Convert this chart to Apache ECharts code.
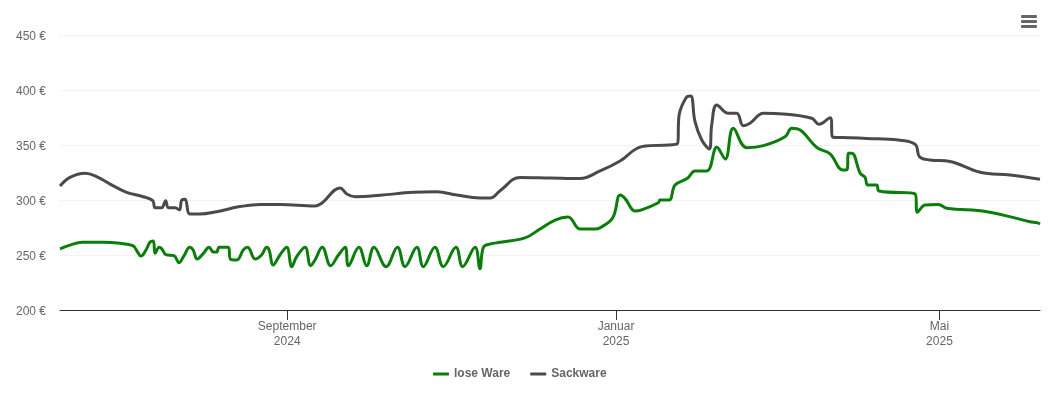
<!DOCTYPE html>
<html>
<head>
<meta charset="utf-8">
<title>Preisentwicklung</title>
<style>
  html, body { margin: 0; padding: 0; background: #fff; }
  #chart { width: 1050px; height: 400px; }
</style>
<script src="https://cdn.jsdelivr.net/npm/echarts@6/dist/echarts.min.js"></script>
</head>
<body>
<div id="chart"></div>
<script>
// x values are days since the first day of the chart (about 9 June 2024)
var lastDay = 363.6;

var tickDays = [84.3, 206.3, 326.3];
var tickLabels = ['September\n2024', 'Januar\n2025', 'Mai\n2025'];

var looseDays = [
  0, 3.7, 8.2, 16, 22.3, 27, 28.5, 30, 31.9, 33.4, 34.6, 35.3, 36.8, 37.8, 39.3, 42.3, 44.2, 45.8, 48.2, 49.4,
  50.9, 53.2, 55.3, 56.9, 58.1, 59.1, 62.4, 63.3, 65.6, 68, 69.6, 72.4, 74.8, 76.7, 77.6, 79.1, 81.6, 84.1, 86, 87.8,
  90.9, 93, 94.6, 97.3, 100.4, 103.3, 105.8, 107, 110.9, 113.8, 116.5, 121, 125.2, 128, 132.4, 134.8, 139.1, 142.2, 146.9, 149.4,
  154, 155.8, 157.1, 159.6, 163.3, 172.5, 178.1, 183.7, 188.5, 193, 198.5, 200.4, 205.1, 207.8, 209.6, 213.4, 215.8, 222, 222.6, 226,
  228.2, 232.8, 235.6, 240, 243.7, 246.8, 249.8, 254.8, 261, 269, 271.5, 274.6, 280.8, 285.7, 290.4, 291.9, 292.6, 293.8, 296.9, 298.7,
  299.7, 303, 303.9, 317.3, 318.1, 321, 325.9, 329, 343.9, 359.9, 362.4, 363.6
];
var loosePrices = [
  255.5, 259, 261.5, 261.5, 260.6, 258.5, 253.9, 249, 254.5, 261.8, 262.7, 251.5, 257, 255.5, 250.3, 249.4, 243, 248.5, 257, 254.5,
  246.4, 251.5, 257, 252.7, 252.7, 257, 257, 246, 245.5, 254.5, 257, 246.4, 250, 257, 254.5, 241, 250, 257, 239.4, 248.5,
  257, 240.3, 245.5, 257, 240.3, 250, 257, 240.3, 257, 240.3, 257, 239.4, 257, 239.4, 257, 239.4, 257, 239.4, 257, 239.4,
  257, 237.5, 257, 260, 261.5, 265.5, 273.6, 281.8, 284.5, 273.6, 273.6, 274.8, 283.9, 304.5, 301.5, 290, 291, 297.5, 300, 300,
  313.6, 319.7, 326.4, 326.4, 347.9, 337.3, 365.2, 347.5, 349.4, 357.5, 365.2, 363.6, 347.7, 342, 327.3, 327.3, 342.5, 342.5, 324.3, 320.6,
  313.6, 313.6, 308.2, 305.5, 288.8, 295.5, 296, 292.5, 289.4, 280.3, 279.4, 278.2
];

var bagDays = [
  0, 3.7, 9.3, 13, 18.6, 24.7, 30.9, 34.4, 35.3, 37.7, 39.2, 40.2, 42.7, 44.3, 45.2, 46.4, 48.2, 51.9, 58.1, 66.8,
  74.2, 81.6, 94.6, 97.1, 103.9, 106.4, 109.5, 118.7, 131.1, 139.8, 147.2, 155.8, 159.6, 163.3, 170.7, 181.8, 192.9, 200.4, 207.8, 215.8,
  229.1, 229.7, 232.3, 234, 235.6, 238.1, 240.9, 241.8, 243.7, 248, 251.1, 253.5, 256, 261, 268.4, 278.9, 281.6, 285.7, 286.9, 293.1,
  299.3, 311, 317.3, 318.9, 322.8, 330.2, 341.4, 352.5, 363.6
];
var bagPrices = [
  312.7, 320.6, 324.3, 322, 314.5, 307, 303, 299.4, 293, 293, 299.4, 293, 293, 291, 300, 300.6, 287.3, 287.3, 289.4, 294,
  296, 296, 294.5, 297, 311, 305.5, 303, 304.3, 307, 307.5, 304.5, 301.8, 301.8, 308.5, 320.5, 320, 319.5, 326.4, 335.5, 348.5,
  351.2, 377.3, 393, 394.5, 371.2, 354.5, 346.4, 368.2, 386.4, 378.8, 378.8, 367.5, 369.7, 378.8, 378.2, 374.3, 368.8, 374.8, 357, 356.6,
  356, 354.5, 350.6, 339.4, 336.4, 335, 325.2, 322.7, 318.8
];

function pairs(days, prices) {
  return days.map(function (d, i) { return [d, prices[i]]; });
}

var font = '"Liberation Sans", Arial, sans-serif';
var myChart = echarts.init(document.getElementById('chart'), null, { renderer: 'canvas' });

var option = {
  animation: false,
  backgroundColor: '#fff',
  grid: { left: 60, right: 10, top: 35, bottom: 90 },
  legend: {
    top: 363,
    left: 428,
    itemGap: 20,
    itemWidth: 16,
    itemHeight: 3,
    icon: 'roundRect',
    textStyle: { color: '#666', fontSize: 12, fontWeight: 'bold', fontFamily: font },
    data: ['lose Ware', 'Sackware']
  },
  xAxis: {
    type: 'value',
    min: 0,
    max: lastDay,
    axisLine: { lineStyle: { color: '#333', width: 1 } },
    axisTick: { show: true, length: 10, lineStyle: { color: '#333', width: 1 }, customValues: tickDays },
    axisLabel: {
      color: '#666',
      fontSize: 12,
      lineHeight: 15,
      fontFamily: font,
      margin: 9,
      customValues: tickDays,
      formatter: function (value) {
        return tickLabels[tickDays.indexOf(value)] || '';
      }
    },
    splitLine: { show: false }
  },
  yAxis: {
    type: 'value',
    min: 200,
    max: 450,
    interval: 50,
    axisLine: { show: false },
    axisTick: { show: false },
    axisLabel: {
      color: '#666',
      fontSize: 12,
      fontFamily: font,
      margin: 14,
      // labels sit a little below their grid line
      verticalAlign: 'top',
      lineHeight: 4,
      formatter: '{value} €'
    },
    splitLine: { lineStyle: { color: '#e6e6e6', type: 'dotted', width: 1 } }
  },
  series: [
    {
      name: 'lose Ware',
      type: 'line',
      data: pairs(looseDays, loosePrices),
      smooth: 0.4,
      showSymbol: false,
      itemStyle: { color: '#0a7d0a' },
      lineStyle: { color: '#0a7d0a', width: 3 }
    },
    {
      name: 'Sackware',
      type: 'line',
      data: pairs(bagDays, bagPrices),
      smooth: 0.4,
      showSymbol: false,
      itemStyle: { color: '#4a4a4a' },
      lineStyle: { color: '#4a4a4a', width: 3 }
    }
  ],
  // menu button, top right
  graphic: [
    { type: 'rect', left: 1021, top: 15, shape: { width: 16, height: 3, r: 1 }, style: { fill: '#666' } },
    { type: 'rect', left: 1021, top: 20, shape: { width: 16, height: 3, r: 1 }, style: { fill: '#666' } },
    { type: 'rect', left: 1021, top: 25, shape: { width: 16, height: 3, r: 1 }, style: { fill: '#666' } }
  ]
};
myChart.setOption(option);
</script>
</body>
</html>
